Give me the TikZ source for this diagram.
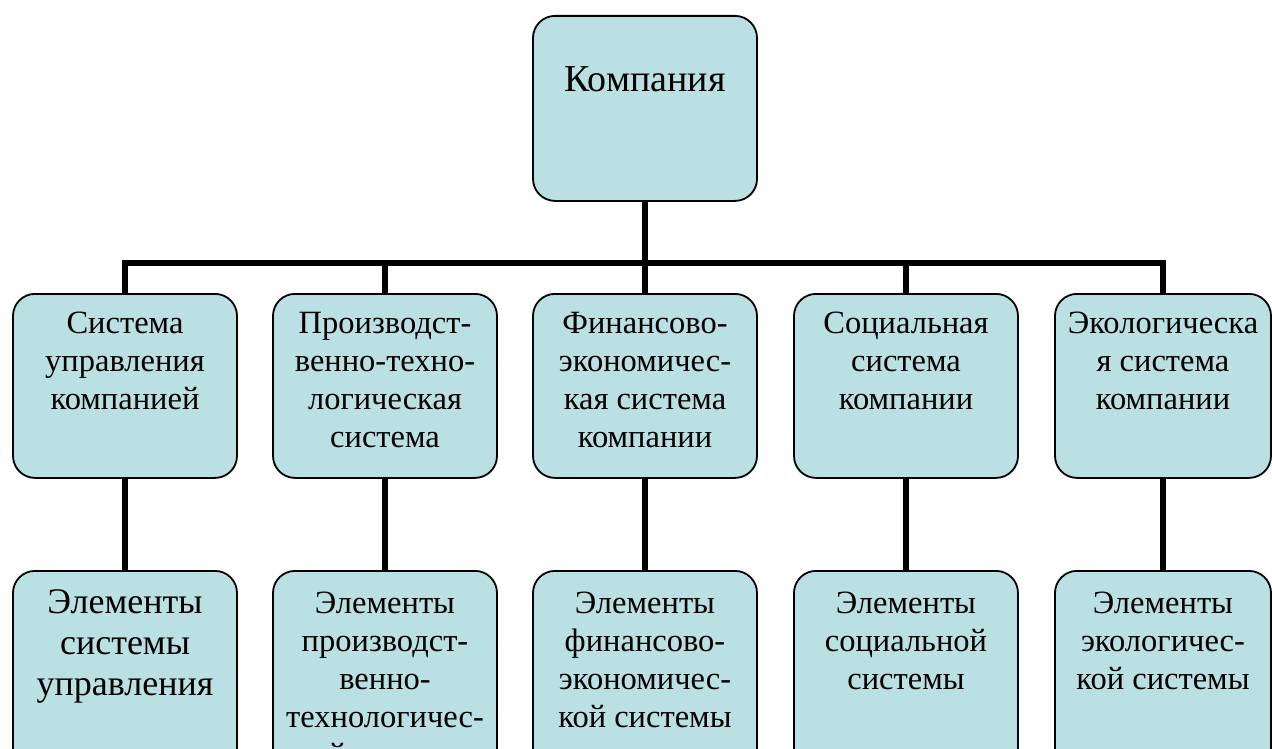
\documentclass[tikz,border=0pt]{standalone}
\usepackage{fontspec}
\setmainfont{Liberation Serif}
\definecolor{boxfill}{RGB}{187,224,227}
% box text: height, width, first baseline, lines
\newcommand{\celltext}[4]{\parbox[c][#1pt][t]{#2pt}{\centering\rule{0pt}{#3pt}#4}}
\tikzset{
  cell/.style={draw, line width=1.8pt, rounded corners=22pt, fill=boxfill,
    inner sep=0pt, anchor=north, font=\fontsize{32.5}{38}\selectfont},
  link/.style={line width=5.5pt},
}
\begin{document}
\begin{tikzpicture}[x=1pt,y=-1pt]
  \useasboundingbox (0,0) rectangle (1272,749);
  \clip (0,0) rectangle (1272,749);
  \node[cell, font=\fontsize{38}{45}\selectfont] (comp) at (645,15)
    {\celltext{185}{224}{76}{Компания}};
  % second level
  \node[cell] (s1) at (125,293) {\celltext{184}{224}{40}{Система\\управления\\компанией}};
  \node[cell] (s2) at (385,293) {\celltext{184}{224}{40}{Производст-\\венно-техно-\\логическая\\система}};
  \node[cell] (s3) at (645,293) {\celltext{184}{224}{40}{Финансово-\\экономичес-\\кая система\\компании}};
  \node[cell] (s4) at (906,293) {\celltext{184}{224}{40}{Социальная\\система\\компании}};
  \node[cell] (s5) at (1163,293) {\celltext{184}{216}{40}{Экологическа\\я система\\компании}};
  % third level
  \node[cell, font=\fontsize{36}{41}\selectfont] (e1) at (125,570)
    {\celltext{200}{224}{43}{Элементы\\системы\\управления}};
  \node[cell] (e2) at (385,570) {\celltext{200}{224}{43}{Элементы\\производст-\\венно-\\технологичес-\\кой системы}};
  \node[cell] (e3) at (645,570) {\celltext{200}{224}{43}{Элементы\\финансово-\\экономичес-\\кой системы}};
  \node[cell] (e4) at (906,570) {\celltext{200}{224}{43}{Элементы\\социальной\\системы}};
  \node[cell] (e5) at (1163,570) {\celltext{200}{216}{43}{Элементы\\экологичес-\\кой системы}};
  % connectors
  \coordinate (bus) at (645,263);
  \draw[link] (comp.south) -- (bus);
  \draw[link] (s1.north) -- (s1.north |- bus) -- (s5.north |- bus) -- (s5.north);
  \foreach \i in {2,3,4}
    \draw[link] (s\i.north |- bus) -- (s\i.north);
  \foreach \i in {1,...,5}
    \draw[link] (s\i.south) -- (e\i.north);
\end{tikzpicture}
\end{document}
